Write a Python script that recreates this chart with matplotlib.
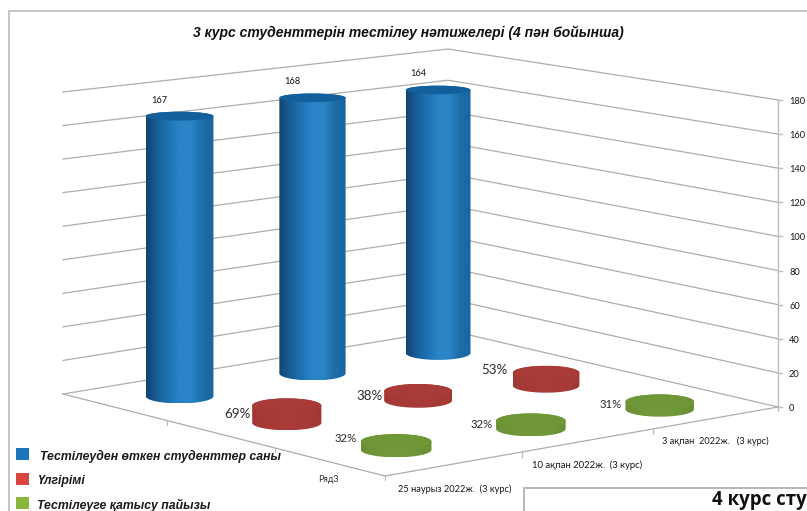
import numpy as np
import matplotlib
matplotlib.use("Agg")
import matplotlib.pyplot as plt
from matplotlib.colors import LinearSegmentedColormap
from matplotlib.patches import Rectangle, Polygon, Ellipse

# ---------- data ----------
categories = ["25 наурыз 2022ж.  (3 курс)", "10 ақпан 2022ж.  (3 курс)", "3 ақпан  2022ж.   (3 курс)"]
series_label = "Ряд3"
students = [167, 168, 164]
success_pct = [69, 38, 53]
participation_pct = [32, 32, 31]
value_ticks = [0, 20, 40, 60, 80, 100, 120, 140, 160, 180]
legend_labels = ["Тестілеуден өткен студенттер саны", "Үлгірімі", "Тестілеуге қатысу пайызы"]
title = "3 курс студенттерін тестілеу нәтижелері (4 пән бойынша)"
next_title = "4 курс сту"

# ---------- camera: floor corners and vertical scale (px per unit) ----------
A, B, C, D = map(np.array, [(63., 394.), (448., 330.), (778., 407.), (385., 476.)])
SA, SB, SC, SD = 1.678, 1.561, 1.706, 1.78
PCT_TO_AXIS = 0.145   # disks are plotted on a compressed scale


def homography():
    src = [(0, 0), (1, 0), (1, 1), (0, 1)]
    dst = [A, B, C, D]
    M, r = [], []
    for (u, v), (x, y) in zip(src, dst):
        M.append([u, v, 1, 0, 0, 0, -u * x, -v * x]); r.append(x)
        M.append([0, 0, 0, u, v, 1, -u * y, -v * y]); r.append(y)
    return np.append(np.linalg.solve(np.array(M), np.array(r)), 1).reshape(3, 3)


H = homography()


def proj(cat, ser, z=0.0):
    """cat, ser in [0, 3]; z in axis units -> pixel position and vertical scale."""
    u, v = cat / 3.0, ser / 3.0
    p = H @ np.array([u, v, 1.0])
    s = SA * (1 - u) * (1 - v) + SB * u * (1 - v) + SC * u * v + SD * (1 - u) * v
    return p[0] / p[2], p[1] / p[2] - s * z, s


fig = plt.figure(figsize=(8.07, 5.11), dpi=100)
ax = fig.add_axes([0, 0, 1, 1])
FONT_T = "Liberation Sans"
FONT_L = "Lato"
GRID = "#adadad"
AXC = "#bdbdbd"
TXT = "#161616"


def cylinder(cat, ser, z, cmap, top_col, zo, nudge=(0, 0)):
    xb, yb, s = proj(cat, ser, 0)
    xt, yt, _ = proj(cat, ser, z)
    xb, xt = xb + nudge[0], xt + nudge[0]
    yb, yt = yb + nudge[1], yt + nudge[1]
    r = s * 20.2
    hb = r * 0.215
    ht = r * (0.215 - 0.0005 * z)
    th = np.linspace(0, np.pi, 60)
    low_x = xb - r * np.cos(th)
    low_y = yb + hb * np.sin(th)
    upp_x = xt + r * np.cos(th)
    upp_y = yt - ht * np.sin(th)
    poly = Polygon(np.c_[np.r_[low_x, upp_x], np.r_[low_y, upp_y]], closed=True,
                   facecolor="none", edgecolor="none", zorder=zo)
    ax.add_patch(poly)
    im = ax.imshow(np.linspace(0, 1, 256)[None, :], cmap=cmap, aspect="auto",
                   extent=(xb - r, xb + r, yb + hb, yt - ht), zorder=zo,
                   interpolation="bilinear")
    im.set_clip_path(poly)
    ax.add_patch(Ellipse((xt, yt), 2 * r, 2 * ht, facecolor=top_col, edgecolor="none", zorder=zo + 0.1))
    return xt, yt, r


blue_cm = LinearSegmentedColormap.from_list("b", ["#114470", "#185f99", "#1e72b2", "#2a85c8", "#2a84c6", "#1d6ea8", "#1a64a0"])
red_cm = LinearSegmentedColormap.from_list("r", ["#a23835", "#a83b38", "#a83b38", "#a23835"])
green_cm = LinearSegmentedColormap.from_list("g", ["#6a9033", "#71983a", "#71983a", "#6a9033"])

# ---------- walls and floor ----------
for z in value_ticks:
    pa, pb, pc = proj(0, 0, z), proj(3, 0, z), proj(3, 3, z)
    ax.plot([pa[0], pb[0], pc[0]], [pa[1], pb[1], pc[1]], color=GRID, lw=0.9, zorder=1)
    ax.plot([pc[0], pc[0] + 4], [pc[1], pc[1]], color=AXC, lw=1.0, zorder=1)
    ax.text(pc[0] + 11, pc[1] + 1.5, str(z), fontsize=6.7, family=FONT_L, ha="left", va="center", color=TXT)

pc0, pc1 = proj(3, 3, 0), proj(3, 3, value_ticks[-1])
ax.plot([pc0[0], pc1[0]], [pc0[1], pc1[1]], color=AXC, lw=1.0, zorder=1)
pa0, pd0 = proj(0, 0, 0), proj(0, 3, 0)
ax.plot([pa0[0], pd0[0], pc0[0]], [pa0[1], pd0[1], pc0[1]], color=GRID, lw=0.9, zorder=1)
tick_dx = [0, 3.5, 3.5, 0]
for t in range(0, 4):
    p = proj(t, 3, 0)
    ax.plot([p[0] + tick_dx[t]] * 2, [p[1] - 0.5, p[1] + 4], color=AXC, lw=0.9, zorder=1)
for t in (1, 2):
    p = proj(0, t, 0)
    ax.plot([p[0], p[0]], [p[1], p[1] + 4], color=AXC, lw=0.9, zorder=1)

# ---------- marks, back row first ----------
blue_nudge = [(-1, 0), (2, -1), (0, 0)]
for i, v in enumerate(students):
    xt, yt, r = cylinder(i + 0.5, 0.5, v, blue_cm, "#125f9c", 3 + i * 0.01, blue_nudge[i])
    ax.text(xt - 20, yt - 16, str(v), fontsize=6.7, family=FONT_L, ha="center", va="center", color=TXT, zorder=8)

red_nudge = [(0, 0), (0.5, 0), (0, 7)]
green_nudge = [(0, -0.5), (3, 1.5), (2.5, 4.5)]
red_off = [(-49, 8), (-49, 5), (-52, -3)]
green_off = [(-50, -3), (-49, 4), (-49, 3)]
for i, v in reversed(list(enumerate(success_pct))):
    xt, yt, r = cylinder(i + 0.5, 1.5, v * PCT_TO_AXIS, red_cm, "#a83b38", 4 + (2 - i) * 0.01, red_nudge[i])
    ax.text(xt + red_off[i][0], yt + red_off[i][1], f"{v}%", fontsize=9.6, family=FONT_L, ha="center", va="center", color="#2a2a2a", zorder=8)
for i, v in reversed(list(enumerate(participation_pct))):
    xt, yt, r = cylinder(i + 0.5, 2.5, v * PCT_TO_AXIS, green_cm, "#6f9637", 5 + (2 - i) * 0.01, green_nudge[i])
    ax.text(xt + green_off[i][0], yt + green_off[i][1], f"{v}%", fontsize=8.2, family=FONT_L, ha="center", va="center", color="#2a2a2a", zorder=8)

# ---------- axis labels ----------
cat_anchor = [(511, 489.5), (642, 465.5), (769, 441.5)]
cat_size = [6.7, 6.8, 6.6]
for lab, (x, y), fs in zip(categories, cat_anchor, cat_size):
    ax.text(x, y, lab, fontsize=fs, family=FONT_L, ha="right", va="center", color=TXT)
ax.text(328, 480, series_label, fontsize=6.5, family=FONT_L, ha="center", va="center", color="#333333")

# ---------- frame, title ----------
ax.plot([8.5, 8.5, 807], [511, 11, 11], color="#c4c4c4", lw=1.4, zorder=1)
ax.text(408, 32.5, title, fontsize=10.0, family=FONT_T, style="italic", weight="bold", ha="center", va="center", color="#111111")

# ---------- legend ----------
leg_cols = ["#1b75bb", "#d9453f", "#8cb53e"]
leg_y = [454.5, 479.5, 503.5]
leg_x = [40, 38, 37]
for lab, col, y, x in zip(legend_labels, leg_cols, leg_y, leg_x):
    ax.add_patch(Rectangle((16, y - 6.5), 12.5, 12.5, facecolor=col, edgecolor="none", zorder=6))
    ax.text(x, y + 1.5, lab, fontsize=8.8, family=FONT_T, style="italic", weight="bold", ha="left", va="center", color="#1a1a1a", zorder=7)

# ---------- next chart's box, cut off by the image edge ----------
ax.plot([523.5, 523.5, 807], [511, 488, 488], color="#b5b5b5", lw=1.4, zorder=9)
ax.text(712, 500, next_title, fontsize=13.4, family="Open Sans", weight="bold", ha="left", va="center", color="#111111", zorder=9)

ax.set_xlim(0, 807)
ax.set_ylim(511, 0)
ax.axis("off")
fig.savefig("out.png", dpi=100)
